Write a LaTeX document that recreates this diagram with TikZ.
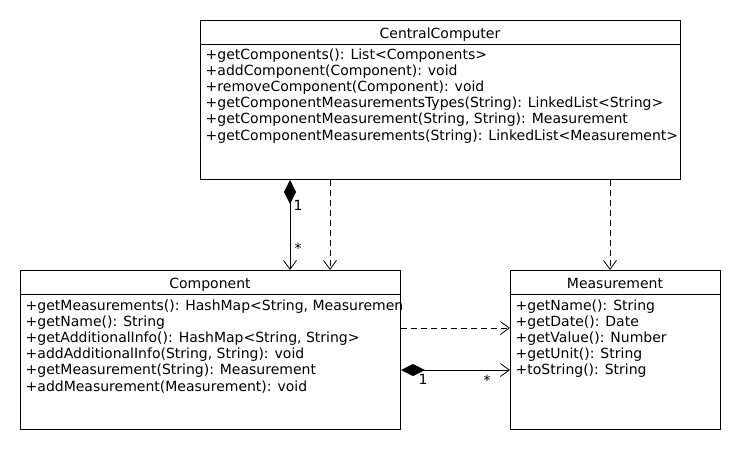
\documentclass[tikz,border=0pt]{standalone}
\usepackage{fontspec}
\setmainfont{DejaVu Sans}
\usetikzlibrary{arrows.meta}
\begin{document}
\begin{tikzpicture}[x=1pt,y=-1pt,
  font=\fontsize{14}{16}\selectfont,
  classbox/.style={draw,line width=1pt,inner sep=0pt,anchor=north west},
  txt/.style={inner sep=0pt,anchor=base west},
  ttl/.style={inner sep=0pt,anchor=base},
  lbl/.style={inner sep=0pt},
  dep/.style={line width=0.8pt,dash pattern=on 6pt off 4pt,-{Straight Barb[length=9pt,width=13pt]}},
  compo/.style={line width=0.8pt,{Diamond[length=24pt,width=12pt]}-{Straight Barb[length=9pt,width=13pt]}}]
\useasboundingbox (0,0) rectangle (740,450);
\fill[white] (0,0) rectangle (740,450);
% CentralComputer
\node[classbox,minimum width=480pt,minimum height=159pt] (cc) at (200,20) {};
\draw[line width=1pt] ([yshift=-24pt]cc.north west) -- ([yshift=-24pt]cc.north east);
\node[ttl] (cct) at (440,38.5) {CentralComputer};
\foreach \t [count=\i] in {{+getComponents(): List<Components>},{+addComponent(Component): void},{+removeComponent(Component): void},{+getComponentMeasurementsTypes(String): LinkedList<String>},{+getComponentMeasurement(String, String): Measurement},{+getComponentMeasurements(String): LinkedList<Measurement>}}
  \node[txt] (ccm\i) at (205.5,{42.8+16.2*\i}) {\t};
% Component
\node[classbox,minimum width=380pt,minimum height=159pt] (comp) at (20,270) {};
\draw[line width=1pt] ([yshift=-24pt]comp.north west) -- ([yshift=-24pt]comp.north east);
\node[ttl] (compt) at (210,288.5) {Component};
\begin{scope}
\clip (comp.north west) rectangle (comp.south east);
\foreach \t [count=\i] in {{+getMeasurements(): HashMap<String, Measurement>},{+getName(): String},{+getAdditionalInfo(): HashMap<String, String>},{+addAdditionalInfo(String, String): void},{+getMeasurement(String): Measurement},{+addMeasurement(Measurement): void}}
  \node[txt] (compm\i) at (25.5,{293.8+16.2*\i}) {\t};
\end{scope}
% Measurement
\node[classbox,minimum width=210pt,minimum height=159pt] (meas) at (510,270) {};
\draw[line width=1pt] ([yshift=-24pt]meas.north west) -- ([yshift=-24pt]meas.north east);
\node[ttl] (meast) at (615,288.5) {Measurement};
\foreach \t [count=\i] in {{+getName(): String},{+getDate(): Date},{+getValue(): Number},{+getUnit(): String},{+toString(): String}}
  \node[txt] (measm\i) at (515.5,{293.8+16.2*\i}) {\t};
% connectors
\draw[compo] ([xshift=90pt]cc.south west) -- ([xshift=270pt]comp.north west);
\node[lbl] (l1) at (298,205) {1};
\node[lbl] (l2) at (298,248) {*};
\draw[dep] ([xshift=130pt]cc.south west) -- ([xshift=310pt]comp.north west);
\draw[dep] ([xshift=410pt]cc.south west) -- ([xshift=100pt]meas.north west);
\draw[dep] ([yshift=-58pt]comp.north east) -- ([yshift=-58pt]meas.north west);
\draw[compo] ([yshift=-100pt]comp.north east) -- ([yshift=-100pt]meas.north west);
\node[lbl] (l3) at (423,379) {1};
\node[lbl] (l4) at (487,380) {*};
\end{tikzpicture}
\end{document}
